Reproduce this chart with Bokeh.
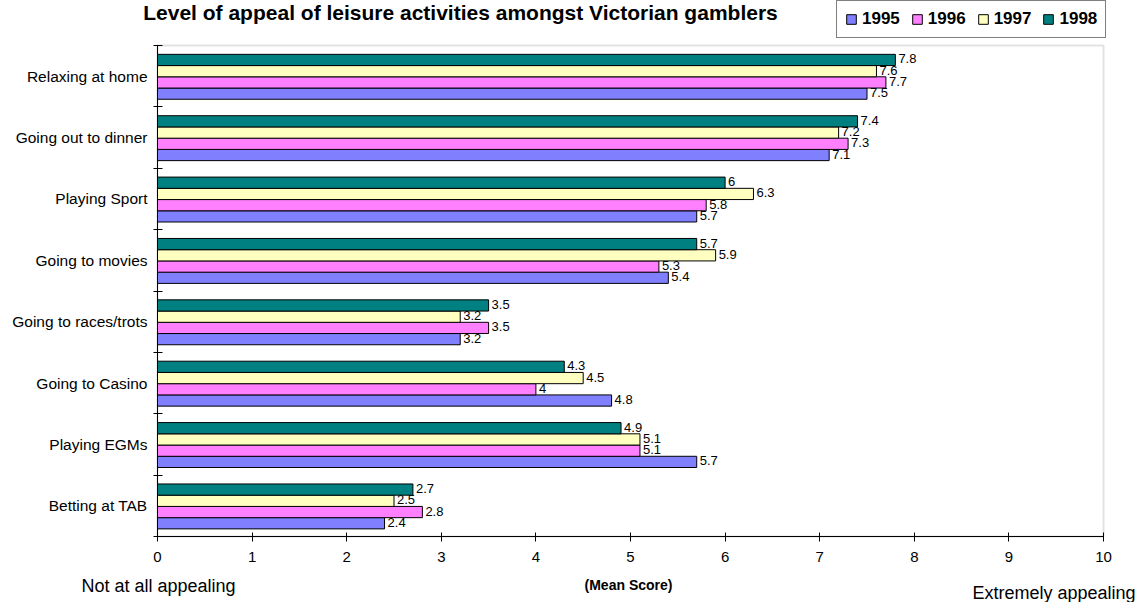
import numpy as np
from bokeh.plotting import figure
from bokeh.models import Range1d, FixedTicker, Legend, LegendItem, Label, BoxAnnotation
from bokeh.core.properties import value
from bokeh.embed import file_html
from bokeh.resources import INLINE

# Activities listed bottom-to-top as they appear on the vertical axis
activities = [
    "Betting at TAB",
    "Playing EGMs",
    "Going to Casino",
    "Going to races/trots",
    "Going to movies",
    "Playing Sport",
    "Going out to dinner",
    "Relaxing at home",
]
years = ["1995", "1996", "1997", "1998"]
score_1995 = [2.4, 5.7, 4.8, 3.2, 5.4, 5.7, 7.1, 7.5]
score_1996 = [2.8, 5.1, 4.0, 3.5, 5.3, 5.8, 7.3, 7.7]
score_1997 = [2.5, 5.1, 4.5, 3.2, 5.9, 6.3, 7.2, 7.6]
score_1998 = [2.7, 4.9, 4.3, 3.5, 5.7, 6.0, 7.4, 7.8]
x_ticks = [0, 1, 2, 3, 4, 5, 6, 7, 8, 9, 10]

series = [score_1995, score_1996, score_1997, score_1998]
colors = ["#8080FF", "#FF80FF", "#FFFFC0", "#008080"]

FONT = "Liberation Sans"
W, H = 1139, 602
# where the value area sits on the page, in pixels
LEFT, RIGHT, TOP, BOTTOM = 157, 1103, 45, 536
X_MAX, Y_MAX = 10, len(activities)

# The frame fills the whole page so that titles, legend and side notes are
# not clipped; the axes are pinned at the data origin instead.
ux = X_MAX / (RIGHT - LEFT)
uy = Y_MAX / (BOTTOM - TOP)
x_range = Range1d(-LEFT * ux, X_MAX + (W - RIGHT) * ux)
y_range = Range1d(-(H - BOTTOM) * uy, Y_MAX + TOP * uy)

p = figure(
    width=W, height=H, x_range=x_range, y_range=y_range,
    min_border=0, output_backend="svg", toolbar_location=None,
)
p.title.visible = False
p.background_fill_color = "white"
p.border_fill_color = "white"
p.outline_line_color = None
p.xgrid.visible = False
p.ygrid.visible = False

# grey border round the value area (left and bottom are covered by the axes)
p.add_layout(BoxAnnotation(left=0, right=X_MAX, bottom=0, top=Y_MAX,
                           fill_color=None, line_color="#a0a0a0", line_width=2,
                           level="underlay"))

# four bars per activity, 1995 at the bottom of each group
bar_h = 0.183
centers = np.arange(len(activities)) + 0.5
renderers = []
for k, (vals, col) in enumerate(zip(series, colors)):
    ys = centers - 0.01 + (k - 1.5) * bar_h
    r = p.hbar(y=ys, left=0, right=vals, height=bar_h,
               fill_color=col, line_color="black", line_width=1)
    renderers.append(r)
    p.text(x=vals, y=ys, text=[f"{v:g}" for v in vals],
           x_offset=3, y_offset=-1, text_baseline="middle", text_align="left",
           text_font=value(FONT), text_font_size="13px", text_color="black")

# x axis
xa = p.xaxis[0]
xa.fixed_location = 0
xa.bounds = (0, X_MAX)
xa.ticker = FixedTicker(ticks=x_ticks)
xa.axis_line_color = "black"
xa.major_tick_line_color = "black"
xa.major_tick_in = 4
xa.major_tick_out = 5
xa.minor_tick_line_color = None
xa.major_label_standoff = 10
xa.major_label_text_font = FONT
xa.major_label_text_font_size = "15px"
xa.major_label_text_color = "black"

# y axis: labels at group centres, tick marks at group boundaries
ya = p.yaxis[0]
ya.fixed_location = 0
ya.bounds = (0, Y_MAX)
ya.ticker = FixedTicker(ticks=[float(c) for c in centers],
                        minor_ticks=list(range(len(activities) + 1)))
ya.major_label_overrides = {float(c): name for c, name in zip(centers, activities)}
ya.axis_line_color = "black"
ya.major_tick_line_color = None
ya.major_tick_in = 0
ya.major_tick_out = 0
ya.minor_tick_line_color = "black"
ya.minor_tick_in = 5
ya.minor_tick_out = 4
ya.major_label_standoff = 6
ya.major_label_text_font = FONT
ya.major_label_text_font_size = "15.5px"
ya.major_label_text_color = "black"

# legend above the value area, top right
legend = Legend(
    items=[LegendItem(label=y, renderers=[r]) for y, r in zip(years, renderers)],
    orientation="horizontal", location=(836, H - 38),
    border_line_color="black", border_line_width=1,
    padding=8, spacing=11, margin=0,
    glyph_width=12, glyph_height=12, label_standoff=5, label_height=20,
    label_text_font=FONT, label_text_font_size="17px", label_text_font_style="bold",
    label_text_color="black", background_fill_color="white",
)
p.add_layout(legend)

def page_label(text, sx, sy, size, align="left", bold=False):
    return Label(x=sx, y=H - sy, x_units="screen", y_units="screen",
                 text=text, text_align=align, text_baseline="alphabetic",
                 text_font=FONT, text_font_size=size,
                 text_font_style="bold" if bold else "normal", text_color="black")

p.add_layout(page_label("Level of appeal of leisure activities amongst Victorian gamblers",
                        460, 12, "21px", align="center", bold=True))
p.add_layout(page_label("Not at all appealing", 81, 585, "18px"))
p.add_layout(page_label("(Mean Score)", 628, 584, "14px", align="center", bold=True))
p.add_layout(page_label("Extremely appealing", 972, 592, "18px"))

open("out.html", "w").write(file_html(p, INLINE))
